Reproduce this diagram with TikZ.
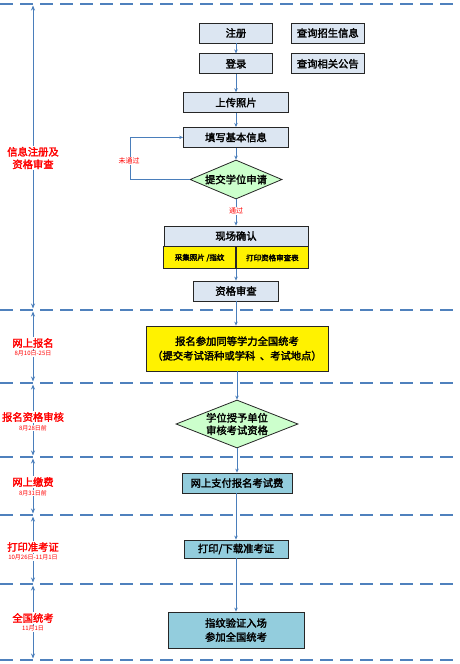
\documentclass[tikz,border=0pt]{standalone}
\usepackage{fontspec}
\setmainfont{Noto Sans CJK SC}[AutoFakeBold=2.2]
\usetikzlibrary{arrows.meta,shapes.geometric,positioning,calc}
\definecolor{boxfill}{HTML}{DCE6F2}
\definecolor{dashblue}{HTML}{4F81BD}
\definecolor{linkblue}{HTML}{4A7EBB}
\definecolor{diafill}{HTML}{CCFFCC}
\definecolor{paybox}{HTML}{93CDDD}
\definecolor{stagered}{HTML}{FF0000}
\tikzset{
    every picture/.style={line width=0.75pt},
    box/.style={draw=black!85, fill=boxfill, line width=0.8pt, inner sep=0pt,
        minimum height=20pt, font=\fontsize{10.3}{12}\selectfont\bfseries},
    ybox/.style={box, fill=yellow},
    cbox/.style={box, fill=paybox},
    cell/.style={box, fill=yellow, minimum width=72pt, minimum height=22pt,
        font=\fontsize{7.5}{8}\selectfont\bfseries},
    dia/.style={draw=black!85, fill=diafill, line width=0.8pt, shape=diamond,
        aspect=2.5, inner sep=0pt, align=center,
        font=\fontsize{10.3}{12.5}\selectfont\bfseries},
    flow/.style={draw=linkblue, line width=0.7pt, -{Stealth[length=4pt,width=3.5pt]}},
    span/.style={draw=linkblue, line width=0.8pt,
        {Stealth[length=5pt,width=4pt]}-{Stealth[length=5pt,width=4pt]}},
    sep/.style={draw=dashblue, line width=2.6pt, dash pattern=on 13pt off 7pt},
    stage/.style={text=stagered, fill=white, inner sep=1pt, align=center,
        font=\fontsize{10.3}{12.5}\selectfont\bfseries},
    when/.style={text=stagered, fill=white, inner sep=0.5pt,
        font=\fontsize{6}{6.5}\selectfont},
    tag/.style={text=stagered, fill=white, inner sep=1pt,
        font=\fontsize{7}{7.5}\selectfont}
}
\begin{document}
\begin{tikzpicture}[x=1pt, y=-1pt]
    \useasboundingbox (0,0) rectangle (460,664);
    \foreach \y/\n in {4/l0, 310/l1, 383/l2, 457/l3, 515/l4, 584/l5, 660/l6} {
        \coordinate (\n) at (33,\y);
        \draw[sep] (0,\y) -- (460,\y);
    }
    \node[box, minimum width=73pt] (reg) at (236,33) {注册};
    \node[box, minimum width=73pt, right=18pt of reg] (qinfo) {查询招生信息};
    \node[box, minimum width=73pt, below=10pt of reg] (login) {登录};
    \node[box, minimum width=73pt, right=18pt of login] (qnotice) {查询相关公告};
    \node[box, minimum width=105pt, below=18pt of login] (upload) {上传照片};
    \node[box, minimum width=105pt, below=14pt of upload] (fillin) {填写基本信息};
    \node[dia, minimum width=92pt, minimum height=39pt] (submit) at (236,179.5) {提交学位申请};
    \node[box, minimum width=144pt] (confirm) at (236,236) {现场确认};
    \node[cell, anchor=north east] (photo) at (confirm.south) {采集照片 /指纹};
    \node[cell, anchor=north west] (printform) at (confirm.south) {打印资格审查表};
    \node[box, minimum width=85pt] (review) at (236,291) {资格审查};
    \node[ybox, minimum width=182pt, minimum height=45pt, align=center,
        font=\fontsize{10.3}{14.5}\selectfont\bfseries] (apply) at (237,348.5)
        {报名参加同等学力全国统考\\（提交考试语种或学科\ \ 、考试地点）};
    \node[dia, minimum width=122pt, minimum height=48pt] (audit) at (237,424) {学位授予单位\\审核考试资格};
    \node[cbox, minimum width=110pt] (pay) at (237,483) {网上支付报名考试费};
    \node[cbox, minimum width=104pt, minimum height=18pt] (ticket) at (236,549) {打印/下载准考证};
    \node[cbox, minimum width=136pt, minimum height=36pt, align=center,
        font=\fontsize{10.3}{14}\selectfont\bfseries] (exam) at (236,630) {指纹验证入场\\参加全国统考};
    \draw[flow] (reg) -- (login);
    \draw[flow] (login) -- (upload);
    \draw[flow] (upload) -- (fillin);
    \draw[flow] (fillin) -- (submit);
    \draw[flow] (submit) -- (confirm) node[tag, pos=0.45] {通过};
    \coordinate (back) at (130,180);
    \draw[flow] (submit.west) -- (submit.west -| back) |- (fillin.west);
    \node[tag] (nopass) at (129,161) {未通过};
    \draw[flow] (confirm.south |- photo.south) -- (review);
    \draw[flow] (review) -- (review |- apply.north);
    \draw[flow] (apply.south -| audit.north) -- (audit);
    \draw[flow] (audit) -- (pay);
    \draw[flow] (ticket |- pay.south) -- (ticket);
    \draw[flow] (ticket) -- (exam);
    \foreach \a/\b in {l0/l1, l1/l2, l2/l3, l3/l4, l4/l5, l5/l6} {
        \draw[span] ($(\a)+(0,1.5)$) -- ($(\b)+(0,-1.5)$);
    }
    \node[stage] (s1) at (33,158) {信息注册及\\资格审查};
    \node[stage] (s2) at (33,343) {网上报名};
    \node[when, below=1pt of s2] (d2) {8月10日-25日};
    \node[stage] (s3) at (33,417) {报名资格审核};
    \node[when, below=1pt of s3] (d3) {8月28日前};
    \node[stage] (s4) at (33,482) {网上缴费};
    \node[when, below=1pt of s4] (d4) {8月31日前};
    \node[stage] (s5) at (33,547) {打印准考证};
    \node[when, below=1pt of s5] (d5) {10月26日-11月1日};
    \node[stage] (s6) at (33,618) {全国统考};
    \node[when, below=1pt of s6] (d6) {11月1日};
\end{tikzpicture}
\end{document}
